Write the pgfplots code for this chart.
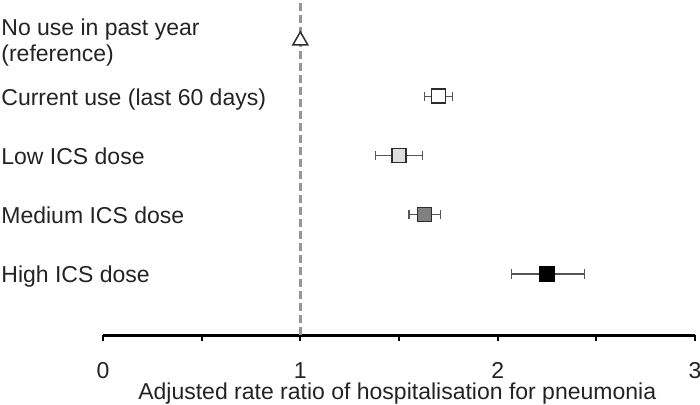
\documentclass[border=0pt]{standalone}
\usepackage{pgfplots}
\pgfplotsset{compat=1.18}
\usepackage{fontspec}
\setmainfont{Liberation Sans}
\definecolor{txt}{RGB}{35,35,35}
\definecolor{dashc}{RGB}{150,150,150}
\definecolor{bord}{RGB}{45,45,45}
\definecolor{errc}{RGB}{85,85,85}
\definecolor{lowc}{RGB}{222,222,222}
\definecolor{medc}{RGB}{128,128,128}
\begin{document}
\fontsize{11.5bp}{14bp}\selectfont
\begin{tikzpicture}[font=\fontsize{11.5bp}{14bp}\selectfont, text=txt]
\begin{axis}[
  scale only axis, width=296bp, height=167.5bp,
  xmin=0, xmax=3, ymin=-0.03, ymax=5.624,
  clip=false,
  axis x line*=bottom, axis y line=none,
  ytick=\empty,
  xtick={0,0.5,1,1.5,2,2.5,3},
  xticklabels={0,,1,,2,,3},
  tick align=outside, major tick length=3bp,
  x axis line style={line width=1.5bp, black},
  xtick style={line width=1.1bp, black},
  xticklabel style={anchor=base, yshift=-18.5bp, at={(0,0)}},
  xlabel={Adjusted rate ratio of hospitalisation for pneumonia},
  xlabel style={at={(axis description cs:0.497,0)}, anchor=base, yshift=-32bp},
  error bars/error mark=|,
  error bars/error bar style={line width=0.7bp, errc},
  error bars/error mark options={mark size=2.3bp, line width=0.7bp, errc},
]
\coordinate (O) at (rel axis cs:0,0);
\coordinate (T) at (rel axis cs:1,1);
% reference line
\addplot[dashc, line width=1.5bp, dash pattern=on 4bp off 2bp] coordinates {(1,-0.03) (1,5.624)};
% reference
\addplot[only marks, mark=triangle*, mark size=4.3bp, mark options={fill=white, draw=bord, line width=0.75bp}] coordinates {(1,4.94)};
% current use
\addplot[only marks, mark=square*, mark size=3.5bp, mark options={fill=white, draw=bord, line width=0.75bp},
  error bars/.cd, x dir=both, x explicit]
  coordinates {(1.70,4) += (0.07,0) -= (0.07,0)};
% low
\addplot[only marks, mark=square*, mark size=3.5bp, mark options={fill=lowc, draw=bord, line width=0.75bp},
  error bars/.cd, x dir=both, x explicit]
  coordinates {(1.50,3) += (0.12,0) -= (0.12,0)};
% medium
\addplot[only marks, mark=square*, mark size=3.5bp, mark options={fill=medc, draw=bord, line width=0.75bp},
  error bars/.cd, x dir=both, x explicit]
  coordinates {(1.63,2) += (0.08,0) -= (0.08,0)};
% high
\addplot[only marks, mark=square*, mark size=3.5bp, mark options={fill=black, draw=black, line width=0.75bp},
  error bars/.cd, x dir=both, x explicit]
  coordinates {(2.25,1) += (0.19,0) -= (0.18,0)};
% row labels
\node[anchor=base west, xshift=-51bp, inner sep=0pt] at (axis cs:0,5.033) {No use in past year};
\node[anchor=base west, xshift=-51bp, inner sep=0pt] at (axis cs:0,4.594) {(reference)};
\node[anchor=base west, xshift=-51bp, yshift=-4.5bp, inner sep=0pt] at (axis cs:0,4) {Current use (last 60 days)};
\node[anchor=base west, xshift=-51bp, yshift=-4.5bp, inner sep=0pt] at (axis cs:0,3) {Low ICS dose};
\node[anchor=base west, xshift=-51bp, yshift=-4.5bp, inner sep=0pt] at (axis cs:0,2) {Medium ICS dose};
\node[anchor=base west, xshift=-51bp, yshift=-4.5bp, inner sep=0pt] at (axis cs:0,1) {High ICS dose};
\end{axis}
\pgfresetboundingbox
\path ([shift={(-51.5bp,-35bp)}]O) rectangle ([shift={(2.5bp,0bp)}]T);
\end{tikzpicture}
\end{document}
